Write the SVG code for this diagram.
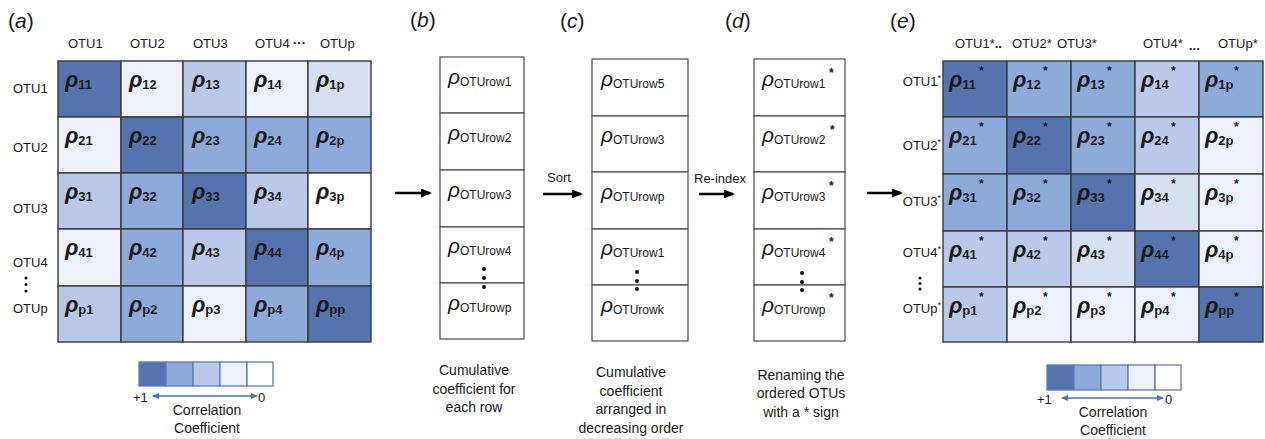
<svg xmlns="http://www.w3.org/2000/svg" width="1265" height="439" viewBox="0 0 1265 439">
<style>
text{font-family:"Liberation Sans",Arial,sans-serif;fill:#1a1a1a}
.lab{font-size:13px}
.cap{font-size:14px;text-anchor:middle}
.pan{font-size:21px}
.rho{font-size:22px;font-weight:bold;font-style:italic}
.sub{font-size:13px;font-weight:bold;font-style:normal}
.st{font-size:12px;font-weight:bold}
.rr{font-size:21px;font-style:italic}
.rs{font-size:12px;font-style:normal}
.cell{stroke:#3a3a3a;stroke-width:1.4}
.box{fill:#fff;stroke:#4a4a4a;stroke-width:1.2}
.cD{fill:#5574ad}.cM{fill:#8eaadb}.cL{fill:#b8c9e9}.cL2{fill:#d6e0f2}.cV{fill:#edf2fa}.cW{fill:#fff}
.lg{stroke:#5a7cc0;stroke-width:1.3}
.arr{stroke:#000;stroke-width:2.6;fill:none}
.larr{stroke:#4472c4;stroke-width:1.3;fill:none}
</style>
<defs>
<marker id="ah" markerUnits="userSpaceOnUse" markerWidth="12" markerHeight="10" refX="9" refY="4.5" orient="auto"><path d="M0,0 L11,4.5 L0,9 z" fill="#000"/></marker>
<marker id="lhe" markerUnits="userSpaceOnUse" markerWidth="8" markerHeight="8" refX="6" refY="3" orient="auto"><path d="M0,0 L7,3 L0,6 z" fill="#4472c4"/></marker>
<marker id="lhs" markerUnits="userSpaceOnUse" markerWidth="8" markerHeight="8" refX="1" refY="3" orient="auto"><path d="M7,0 L0,3 L7,6 z" fill="#4472c4"/></marker>
</defs>

<g id="panel-a">
<text class="pan" x="8" y="28">(<tspan font-style="italic">a</tspan>)</text>
<text class="lab" x="68" y="48">OTU1</text>
<text class="lab" x="130" y="48">OTU2</text>
<text class="lab" x="193" y="48">OTU3</text>
<text class="lab" x="255" y="48">OTU4</text>
<text class="lab" x="293" y="47" font-weight="bold">···</text>
<text class="lab" x="320" y="48">OTUp</text>
<text class="lab" x="13" y="93">OTU1</text>
<text class="lab" x="13" y="152">OTU2</text>
<text class="lab" x="13" y="213">OTU3</text>
<text class="lab" x="13" y="267">OTU4</text>
<circle cx="26" cy="278" r="1.6" fill="#1a1a1a"/><circle cx="26" cy="284.5" r="1.6" fill="#1a1a1a"/><circle cx="26" cy="291" r="1.6" fill="#1a1a1a"/>
<text class="lab" x="13" y="313">OTUp</text>
<g id="matrix-a">
<rect class="cell cD" x="58" y="61" width="63" height="56"/><rect class="cell cV" x="121" y="61" width="62" height="56"/><rect class="cell cL" x="183" y="61" width="63" height="56"/><rect class="cell cV" x="246" y="61" width="62" height="56"/><rect class="cell cL2" x="308" y="61" width="63" height="56"/>
<rect class="cell cV" x="58" y="117" width="63" height="56"/><rect class="cell cD" x="121" y="117" width="62" height="56"/><rect class="cell cM" x="183" y="117" width="63" height="56"/><rect class="cell cM" x="246" y="117" width="62" height="56"/><rect class="cell cM" x="308" y="117" width="63" height="56"/>
<rect class="cell cL" x="58" y="173" width="63" height="56"/><rect class="cell cM" x="121" y="173" width="62" height="56"/><rect class="cell cD" x="183" y="173" width="63" height="56"/><rect class="cell cL" x="246" y="173" width="62" height="56"/><rect class="cell cW" x="308" y="173" width="63" height="56"/>
<rect class="cell cV" x="58" y="229" width="63" height="57"/><rect class="cell cM" x="121" y="229" width="62" height="57"/><rect class="cell cL" x="183" y="229" width="63" height="57"/><rect class="cell cD" x="246" y="229" width="62" height="57"/><rect class="cell cM" x="308" y="229" width="63" height="57"/>
<rect class="cell cL" x="58" y="286" width="63" height="56"/><rect class="cell cM" x="121" y="286" width="62" height="56"/><rect class="cell cV" x="183" y="286" width="63" height="56"/><rect class="cell cM" x="246" y="286" width="62" height="56"/><rect class="cell cD" x="308" y="286" width="63" height="56"/>
<text class="rho" x="65" y="87">ρ<tspan class="sub" dy="2">11</tspan></text>
<text class="rho" x="129" y="87">ρ<tspan class="sub" dy="2">12</tspan></text>
<text class="rho" x="192" y="87">ρ<tspan class="sub" dy="2">13</tspan></text>
<text class="rho" x="254" y="87">ρ<tspan class="sub" dy="2">14</tspan></text>
<text class="rho" x="316" y="87">ρ<tspan class="sub" dy="2">1p</tspan></text>
<text class="rho" x="65" y="143">ρ<tspan class="sub" dy="2">21</tspan></text>
<text class="rho" x="129" y="143">ρ<tspan class="sub" dy="2">22</tspan></text>
<text class="rho" x="192" y="143">ρ<tspan class="sub" dy="2">23</tspan></text>
<text class="rho" x="254" y="143">ρ<tspan class="sub" dy="2">24</tspan></text>
<text class="rho" x="316" y="143">ρ<tspan class="sub" dy="2">2p</tspan></text>
<text class="rho" x="65" y="199">ρ<tspan class="sub" dy="2">31</tspan></text>
<text class="rho" x="129" y="199">ρ<tspan class="sub" dy="2">32</tspan></text>
<text class="rho" x="192" y="199">ρ<tspan class="sub" dy="2">33</tspan></text>
<text class="rho" x="254" y="199">ρ<tspan class="sub" dy="2">34</tspan></text>
<text class="rho" x="316" y="199">ρ<tspan class="sub" dy="2">3p</tspan></text>
<text class="rho" x="65" y="255">ρ<tspan class="sub" dy="2">41</tspan></text>
<text class="rho" x="129" y="255">ρ<tspan class="sub" dy="2">42</tspan></text>
<text class="rho" x="192" y="255">ρ<tspan class="sub" dy="2">43</tspan></text>
<text class="rho" x="254" y="255">ρ<tspan class="sub" dy="2">44</tspan></text>
<text class="rho" x="316" y="255">ρ<tspan class="sub" dy="2">4p</tspan></text>
<text class="rho" x="65" y="312">ρ<tspan class="sub" dy="2">p1</tspan></text>
<text class="rho" x="129" y="312">ρ<tspan class="sub" dy="2">p2</tspan></text>
<text class="rho" x="192" y="312">ρ<tspan class="sub" dy="2">p3</tspan></text>
<text class="rho" x="254" y="312">ρ<tspan class="sub" dy="2">p4</tspan></text>
<text class="rho" x="316" y="312">ρ<tspan class="sub" dy="2">pp</tspan></text>
</g>
<g id="legend-a">
<rect class="lg cD" x="139" y="362" width="27" height="24"/><rect class="lg cM" x="166" y="362" width="27" height="24"/><rect class="lg cL" x="193" y="362" width="27" height="24"/><rect class="lg cV" x="220" y="362" width="27" height="24"/><rect class="lg cW" x="247" y="362" width="26" height="24"/>
<line class="larr" x1="153" y1="396" x2="257" y2="396" marker-start="url(#lhs)" marker-end="url(#lhe)"/>
<text class="lab" x="133" y="402" font-size="14">+1</text>
<text class="lab" x="258" y="402" font-size="14">0</text>
<text class="cap" x="207" y="415">Correlation</text>
<text class="cap" x="207" y="433">Coefficient</text>
</g>
</g>

<g id="panel-b">
<text class="pan" x="410" y="27">(<tspan font-style="italic">b</tspan>)</text>
<rect class="box" x="440" y="57" width="84" height="56"/>
<rect class="box" x="440" y="113" width="84" height="57"/>
<rect class="box" x="440" y="170" width="84" height="57"/>
<rect class="box" x="440" y="227" width="84" height="56"/>
<rect class="box" x="440" y="283" width="84" height="56"/>
<text class="rr" x="448" y="84">ρ<tspan class="rs" dy="2">OTUrow1</tspan></text>
<text class="rr" x="448" y="140">ρ<tspan class="rs" dy="2">OTUrow2</tspan></text>
<text class="rr" x="448" y="197">ρ<tspan class="rs" dy="2">OTUrow3</tspan></text>
<text class="rr" x="448" y="253">ρ<tspan class="rs" dy="2">OTUrow4</tspan></text>
<text class="rr" x="448" y="310">ρ<tspan class="rs" dy="2">OTUrowp</tspan></text>
<circle cx="484" cy="269" r="2" fill="#111"/><circle cx="484" cy="278" r="2" fill="#111"/><circle cx="484" cy="287" r="2" fill="#111"/>
<text class="cap" x="474" y="375">Cumulative</text>
<text class="cap" x="474" y="394">coefficient for</text>
<text class="cap" x="474" y="412">each row</text>
</g>

<g id="panel-c">
<text class="pan" x="560" y="28">(<tspan font-style="italic">c</tspan>)</text>
<rect class="box" x="592" y="59" width="96" height="57"/>
<rect class="box" x="592" y="116" width="96" height="56"/>
<rect class="box" x="592" y="172" width="96" height="57"/>
<rect class="box" x="592" y="229" width="96" height="56"/>
<rect class="box" x="592" y="285" width="96" height="56"/>
<text class="rr" x="601" y="86">ρ<tspan class="rs" dy="2">OTUrow5</tspan></text>
<text class="rr" x="601" y="142">ρ<tspan class="rs" dy="2">OTUrow3</tspan></text>
<text class="rr" x="601" y="199">ρ<tspan class="rs" dy="2">OTUrowp</tspan></text>
<text class="rr" x="601" y="255">ρ<tspan class="rs" dy="2">OTUrow1</tspan></text>
<text class="rr" x="601" y="312">ρ<tspan class="rs" dy="2">OTUrowk</tspan></text>
<circle cx="637" cy="272" r="2" fill="#111"/><circle cx="637" cy="281" r="2" fill="#111"/><circle cx="637" cy="289" r="2" fill="#111"/>
<text class="cap" x="631" y="377">Cumulative</text>
<text class="cap" x="631" y="396">coefficient</text>
<text class="cap" x="631" y="414">arranged in</text>
<text class="cap" x="631" y="433">decreasing order</text>
</g>

<g id="panel-d">
<text class="pan" x="725" y="28">(<tspan font-style="italic">d</tspan>)</text>
<rect class="box" x="754" y="59" width="91" height="57"/>
<rect class="box" x="754" y="116" width="91" height="56"/>
<rect class="box" x="754" y="172" width="91" height="57"/>
<rect class="box" x="754" y="229" width="91" height="56"/>
<rect class="box" x="754" y="285" width="91" height="56"/>
<text class="rr" x="762" y="86">ρ<tspan class="rs" dy="2">OTUrow1</tspan></text>
<text class="rr" x="762" y="142">ρ<tspan class="rs" dy="2">OTUrow2</tspan></text>
<text class="rr" x="762" y="199">ρ<tspan class="rs" dy="2">OTUrow3</tspan></text>
<text class="rr" x="762" y="255">ρ<tspan class="rs" dy="2">OTUrow4</tspan></text>
<text class="rr" x="762" y="312">ρ<tspan class="rs" dy="2">OTUrowp</tspan></text>
<text class="st" x="829" y="77" font-size="11">*</text>
<text class="st" x="830" y="134" font-size="11">*</text>
<text class="st" x="829" y="190" font-size="11">*</text>
<text class="st" x="829" y="246" font-size="11">*</text>
<text class="st" x="829" y="302" font-size="11">*</text>
<circle cx="802" cy="273" r="2" fill="#111"/><circle cx="802" cy="282" r="2" fill="#111"/><circle cx="802" cy="290" r="2" fill="#111"/>
<text class="cap" x="801" y="380">Renaming the</text>
<text class="cap" x="801" y="398">ordered OTUs</text>
<text class="cap" x="801" y="417">with a * sign</text>
</g>

<g id="panel-e">
<text class="pan" x="890" y="28">(<tspan font-style="italic">e</tspan>)</text>
<text class="lab" x="955" y="48">OTU1*<tspan font-weight="bold">..</tspan></text>
<text class="lab" x="1012" y="48">OTU2*</text>
<text class="lab" x="1057" y="48">OTU3*</text>
<text class="lab" x="1143" y="48">OTU4*</text>
<text class="lab" x="1189" y="50" font-weight="bold" font-size="15">...</text>
<text class="lab" x="1218" y="48">OTUp*</text>
<text class="lab" x="941" y="86" text-anchor="end">OTU1<tspan font-size="9" dy="-5">*</tspan></text>
<text class="lab" x="941" y="150" text-anchor="end">OTU2<tspan font-size="9" dy="-5">*</tspan></text>
<text class="lab" x="941" y="206" text-anchor="end">OTU3<tspan font-size="9" dy="-5">*</tspan></text>
<text class="lab" x="941" y="257" text-anchor="end">OTU4<tspan font-size="9" dy="-5">*</tspan></text>
<circle cx="920" cy="278" r="1.6" fill="#1a1a1a"/><circle cx="920" cy="283.5" r="1.6" fill="#1a1a1a"/><circle cx="920" cy="289" r="1.6" fill="#1a1a1a"/>
<text class="lab" x="941" y="313" text-anchor="end">OTUp<tspan font-size="9" dy="-5">*</tspan></text>
<g id="matrix-e">
<rect class="cell cD" x="943" y="61" width="64" height="56"/><rect class="cell cM" x="1007" y="61" width="64" height="56"/><rect class="cell cM" x="1071" y="61" width="64" height="56"/><rect class="cell cL" x="1135" y="61" width="64" height="56"/><rect class="cell cM" x="1199" y="61" width="64" height="56"/>
<rect class="cell cM" x="943" y="117" width="64" height="57"/><rect class="cell cD" x="1007" y="117" width="64" height="57"/><rect class="cell cM" x="1071" y="117" width="64" height="57"/><rect class="cell cL" x="1135" y="117" width="64" height="57"/><rect class="cell cV" x="1199" y="117" width="64" height="57"/>
<rect class="cell cM" x="943" y="174" width="64" height="57"/><rect class="cell cM" x="1007" y="174" width="64" height="57"/><rect class="cell cD" x="1071" y="174" width="64" height="57"/><rect class="cell cL2" x="1135" y="174" width="64" height="57"/><rect class="cell cV" x="1199" y="174" width="64" height="57"/>
<rect class="cell cL" x="943" y="231" width="64" height="56"/><rect class="cell cL" x="1007" y="231" width="64" height="56"/><rect class="cell cL2" x="1071" y="231" width="64" height="56"/><rect class="cell cD" x="1135" y="231" width="64" height="56"/><rect class="cell cV" x="1199" y="231" width="64" height="56"/>
<rect class="cell cL" x="943" y="287" width="64" height="55"/><rect class="cell cV" x="1007" y="287" width="64" height="55"/><rect class="cell cV" x="1071" y="287" width="64" height="55"/><rect class="cell cV" x="1135" y="287" width="64" height="55"/><rect class="cell cD" x="1199" y="287" width="64" height="55"/>
<text class="rho" x="949" y="87">ρ<tspan class="sub" dy="2">11</tspan></text>
<text class="rho" x="1013" y="87">ρ<tspan class="sub" dy="2">12</tspan></text>
<text class="rho" x="1077" y="87">ρ<tspan class="sub" dy="2">13</tspan></text>
<text class="rho" x="1141" y="87">ρ<tspan class="sub" dy="2">14</tspan></text>
<text class="rho" x="1205" y="87">ρ<tspan class="sub" dy="2">1p</tspan></text>
<text class="rho" x="949" y="143">ρ<tspan class="sub" dy="2">21</tspan></text>
<text class="rho" x="1013" y="143">ρ<tspan class="sub" dy="2">22</tspan></text>
<text class="rho" x="1077" y="143">ρ<tspan class="sub" dy="2">23</tspan></text>
<text class="rho" x="1141" y="143">ρ<tspan class="sub" dy="2">24</tspan></text>
<text class="rho" x="1205" y="143">ρ<tspan class="sub" dy="2">2p</tspan></text>
<text class="rho" x="949" y="200">ρ<tspan class="sub" dy="2">31</tspan></text>
<text class="rho" x="1013" y="200">ρ<tspan class="sub" dy="2">32</tspan></text>
<text class="rho" x="1077" y="200">ρ<tspan class="sub" dy="2">33</tspan></text>
<text class="rho" x="1141" y="200">ρ<tspan class="sub" dy="2">34</tspan></text>
<text class="rho" x="1205" y="200">ρ<tspan class="sub" dy="2">3p</tspan></text>
<text class="rho" x="949" y="257">ρ<tspan class="sub" dy="2">41</tspan></text>
<text class="rho" x="1013" y="257">ρ<tspan class="sub" dy="2">42</tspan></text>
<text class="rho" x="1077" y="257">ρ<tspan class="sub" dy="2">43</tspan></text>
<text class="rho" x="1141" y="257">ρ<tspan class="sub" dy="2">44</tspan></text>
<text class="rho" x="1205" y="257">ρ<tspan class="sub" dy="2">4p</tspan></text>
<text class="rho" x="949" y="313">ρ<tspan class="sub" dy="2">p1</tspan></text>
<text class="rho" x="1013" y="313">ρ<tspan class="sub" dy="2">p2</tspan></text>
<text class="rho" x="1077" y="313">ρ<tspan class="sub" dy="2">p3</tspan></text>
<text class="rho" x="1141" y="313">ρ<tspan class="sub" dy="2">p4</tspan></text>
<text class="rho" x="1205" y="313">ρ<tspan class="sub" dy="2">pp</tspan></text>
<text class="st" x="979" y="75">*</text><text class="st" x="1043" y="75">*</text><text class="st" x="1107" y="75">*</text><text class="st" x="1171" y="75">*</text><text class="st" x="1234" y="75">*</text>
<text class="st" x="979" y="131">*</text><text class="st" x="1043" y="131">*</text><text class="st" x="1107" y="131">*</text><text class="st" x="1171" y="131">*</text><text class="st" x="1234" y="131">*</text>
<text class="st" x="979" y="188">*</text><text class="st" x="1043" y="188">*</text><text class="st" x="1107" y="188">*</text><text class="st" x="1171" y="188">*</text><text class="st" x="1234" y="188">*</text>
<text class="st" x="979" y="245">*</text><text class="st" x="1043" y="245">*</text><text class="st" x="1107" y="245">*</text><text class="st" x="1171" y="245">*</text><text class="st" x="1234" y="245">*</text>
<text class="st" x="979" y="301">*</text><text class="st" x="1043" y="301">*</text><text class="st" x="1107" y="301">*</text><text class="st" x="1171" y="301">*</text><text class="st" x="1234" y="301">*</text>
</g>
<g id="legend-e">
<rect class="lg cD" x="1047" y="365" width="27" height="25"/><rect class="lg cM" x="1074" y="365" width="27" height="25"/><rect class="lg cL" x="1101" y="365" width="27" height="25"/><rect class="lg cV" x="1128" y="365" width="27" height="25"/><rect class="lg cW" x="1155" y="365" width="26" height="25"/>
<line class="larr" x1="1062" y1="398" x2="1163" y2="398" marker-start="url(#lhs)" marker-end="url(#lhe)"/>
<text class="lab" x="1037" y="404" font-size="14">+1</text>
<text class="lab" x="1165" y="404" font-size="14">0</text>
<text class="cap" x="1113" y="417">Correlation</text>
<text class="cap" x="1113" y="435">Coefficient</text>
</g>
</g>

<g id="connectors">
<line class="arr" x1="395" y1="193" x2="430" y2="193" marker-end="url(#ah)"/>
<line class="arr" x1="543" y1="194" x2="581" y2="194" marker-end="url(#ah)"/>
<text class="lab" x="547" y="182">Sort</text>
<line class="arr" x1="699" y1="194" x2="733" y2="194" marker-end="url(#ah)"/>
<text class="lab" x="694" y="183">Re-index</text>
<line class="arr" x1="867" y1="193" x2="901" y2="193" marker-end="url(#ah)"/>
</g>
</svg>
